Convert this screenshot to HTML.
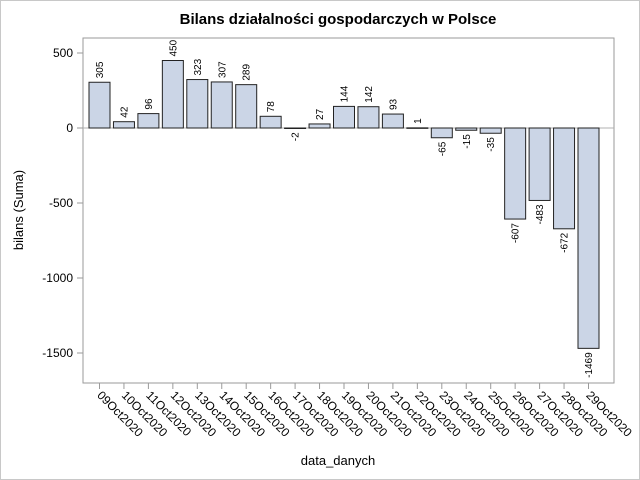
<!DOCTYPE html>
<html><head><meta charset="utf-8"><style>
body{margin:0;background:#fff}
svg{display:block;font-family:"Liberation Sans",Arial,sans-serif}
</style></head><body>
<svg id="c" width="640" height="480">
<rect x="0.5" y="0.5" width="639" height="479" fill="#fff" stroke="#c8c8c8"/>
<text x="338" y="24" text-anchor="middle" font-size="15" font-weight="bold">Bilans działalności gospodarczych w Polsce</text>
<text x="338" y="465" text-anchor="middle" font-size="13">data_danych</text>
<text transform="translate(23,210) rotate(-90)" text-anchor="middle" font-size="13">bilans (Suma)</text>
<rect x="83" y="38" width="531" height="345" fill="none" stroke="#9a9a9a"/>
<g id="g"></g>
</svg>
<script>
const categories=["09Oct2020","10Oct2020","11Oct2020","12Oct2020","13Oct2020","14Oct2020","15Oct2020","16Oct2020","17Oct2020","18Oct2020","19Oct2020","20Oct2020","21Oct2020","22Oct2020","23Oct2020","24Oct2020","25Oct2020","26Oct2020","27Oct2020","28Oct2020","29Oct2020"];
const values=[305,42,96,450,323,307,289,78,-2,27,144,142,93,1,-65,-15,-35,-607,-483,-672,-1469];
const yTicks=[500,0,-500,-1000,-1500];
const NS="http://www.w3.org/2000/svg";
const g=document.getElementById('g');
const y=v=>128-v*0.15;
const x=i=>99.5+i*24.45;
function mk(t,a){const e=document.createElementNS(NS,t);for(const k in a)e.setAttribute(k,a[k]);g.appendChild(e);return e;}
yTicks.forEach(t=>{
 const l=mk('line',{x1:77,x2:83,y1:y(t),y2:y(t),stroke:'#9a9a9a'});
 
 
 const tx=mk('text',{x:73,y:y(t)+4,'text-anchor':'end','font-size':12});
 tx.textContent=t;
 
 
});
const zl=mk('line',{x1:83,x2:614,y1:y(0),y2:y(0),stroke:'#b0b0b0'});


categories.forEach((c,i)=>{
 const v=values[i],cx=x(i),top=Math.min(y(v),y(0)),h=Math.abs(y(v)-y(0));
 const r=mk('rect',{x:cx-10.5,y:top,width:21,height:Math.max(h,0.5),fill:'#cbd5e6',stroke:'#222','stroke-width':1});
 
 
 const ly=v>=0?y(v)-4:y(v)+4;
 const lt=mk('text',{transform:`translate(${cx+3.5},${ly}) rotate(-90)`,'text-anchor':v>=0?'start':'end','font-size':10});
 lt.textContent=v;
 
 
 const tk=mk('line',{x1:cx,x2:cx,y1:383,y2:389,stroke:'#9a9a9a'});
 
 
 const xt=mk('text',{transform:`translate(${cx-3},${396}) rotate(45)`,'font-size':12});
 xt.textContent=c;
 
 
});
</script>
</body></html>
